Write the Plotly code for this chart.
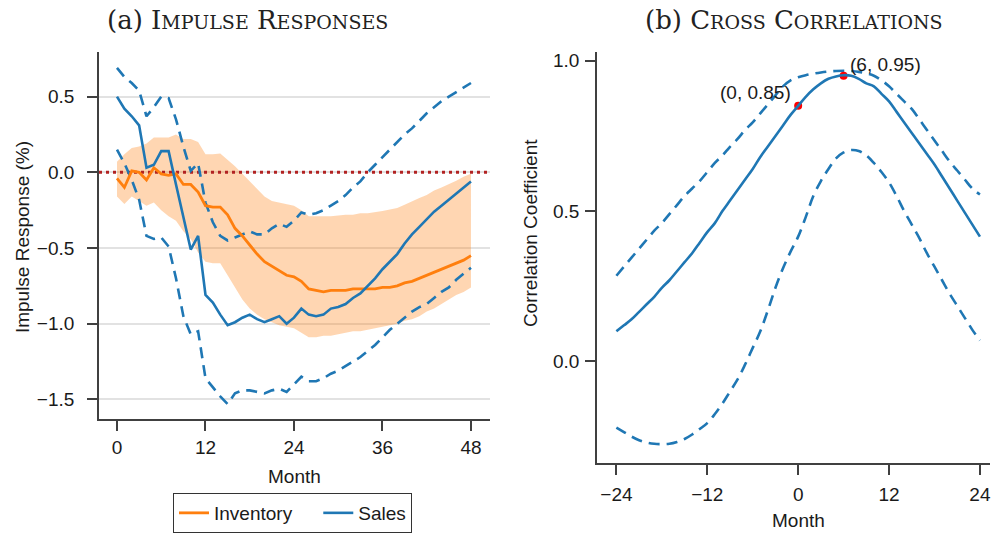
import plotly.graph_objects as go

# ---------------- data ----------------
months = list(range(0, 49))
inventory = [-0.04, -0.10, 0.01, 0.00, -0.05, 0.03, -0.01, -0.02, -0.01, -0.08, -0.08, -0.13,
             -0.22, -0.23, -0.23, -0.28, -0.37, -0.42, -0.48, -0.54, -0.59, -0.62, -0.65, -0.68,
             -0.69, -0.72, -0.77, -0.78, -0.79, -0.78, -0.78, -0.78, -0.77, -0.77, -0.77, -0.77,
             -0.76, -0.76, -0.75, -0.73, -0.72, -0.70, -0.68, -0.66, -0.64, -0.62, -0.60, -0.58, -0.55]
inv_upper = [0.07, 0.12, 0.16, 0.17, 0.19, 0.23, 0.23, 0.23, 0.25, 0.22, 0.22, 0.20,
             0.12, 0.12, 0.125, 0.085, 0.04, -0.01, -0.06, -0.11, -0.16, -0.19, -0.20, -0.21,
             -0.22, -0.25, -0.29, -0.29, -0.29, -0.29, -0.285, -0.28, -0.28, -0.27, -0.27, -0.265,
             -0.255, -0.245, -0.235, -0.215, -0.19, -0.17, -0.15, -0.12, -0.10, -0.08, -0.055, -0.03, -0.01]
inv_lower = [-0.16, -0.21, -0.16, -0.19, -0.22, -0.20, -0.25, -0.29, -0.32, -0.39, -0.44, -0.53,
             -0.59, -0.60, -0.60, -0.68, -0.76, -0.84, -0.90, -0.94, -0.97, -0.99, -1.01, -1.02,
             -1.03, -1.06, -1.09, -1.09, -1.08, -1.08, -1.07, -1.06, -1.05, -1.05, -1.04, -1.03,
             -1.02, -1.01, -1.00, -0.98, -0.97, -0.95, -0.92, -0.90, -0.87, -0.84, -0.81, -0.79, -0.76]
sales = [0.50, 0.42, 0.37, 0.31, 0.03, 0.05, 0.14, 0.14, -0.08, -0.30, -0.51, -0.42,
         -0.81, -0.86, -0.94, -1.01, -0.99, -0.96, -0.94, -0.97, -0.99, -0.97, -0.95, -1.00,
         -0.96, -0.90, -0.94, -0.95, -0.94, -0.90, -0.89, -0.87, -0.83, -0.80, -0.75, -0.70,
         -0.64, -0.59, -0.54, -0.47, -0.41, -0.36, -0.31, -0.26, -0.22, -0.18, -0.14, -0.10, -0.06]
sales_upper = [0.69, 0.63, 0.59, 0.54, 0.37, 0.43, 0.50, 0.49, 0.35, 0.17, 0.01, 0.06,
               -0.20, -0.33, -0.42, -0.45, -0.43, -0.41, -0.39, -0.41, -0.41, -0.37, -0.34, -0.36,
               -0.32, -0.265, -0.28, -0.27, -0.25, -0.22, -0.19, -0.15, -0.10, -0.06, 0.00, 0.05,
               0.10, 0.15, 0.20, 0.25, 0.29, 0.34, 0.39, 0.43, 0.47, 0.50, 0.53, 0.56, 0.59]
sales_lower = [0.15, 0.06, -0.05, -0.18, -0.42, -0.44, -0.43, -0.49, -0.70, -0.95, -1.07, -1.05,
               -1.36, -1.42, -1.48, -1.53, -1.46, -1.44, -1.44, -1.45, -1.46, -1.44, -1.43, -1.45,
               -1.40, -1.35, -1.38, -1.38, -1.36, -1.33, -1.31, -1.28, -1.25, -1.22, -1.18, -1.14,
               -1.09, -1.04, -1.00, -0.96, -0.92, -0.89, -0.87, -0.83, -0.79, -0.76, -0.71, -0.67, -0.63]

lags = list(range(-24, 25))
corr = [0.10, 0.12, 0.14, 0.165, 0.19, 0.215, 0.245, 0.27, 0.30, 0.33, 0.36, 0.395,
        0.43, 0.46, 0.50, 0.535, 0.57, 0.605, 0.64, 0.68, 0.715, 0.75, 0.785, 0.82,
        0.85, 0.88, 0.905, 0.925, 0.94, 0.948, 0.952, 0.95, 0.94, 0.925, 0.915, 0.89,
        0.865, 0.83, 0.795, 0.76, 0.725, 0.69, 0.655, 0.615, 0.575, 0.535, 0.495, 0.455, 0.415]
corr_upper = [0.285, 0.315, 0.345, 0.375, 0.405, 0.435, 0.46, 0.49, 0.52, 0.55, 0.575, 0.60,
              0.63, 0.66, 0.685, 0.714, 0.74, 0.77, 0.795, 0.825, 0.855, 0.885, 0.915, 0.935,
              0.945, 0.952, 0.957, 0.961, 0.964, 0.966, 0.967, 0.966, 0.963, 0.958, 0.95, 0.935,
              0.915, 0.89, 0.865, 0.84, 0.805, 0.77, 0.735, 0.70, 0.665, 0.635, 0.605, 0.575, 0.555]
corr_lower = [-0.22, -0.235, -0.25, -0.262, -0.27, -0.274, -0.275, -0.274, -0.268, -0.258, -0.243, -0.225,
              -0.205, -0.175, -0.14, -0.10, -0.06, -0.01, 0.045, 0.10, 0.17, 0.245, 0.31, 0.365,
              0.415, 0.48, 0.55, 0.60, 0.64, 0.675, 0.695, 0.703, 0.70, 0.685, 0.66, 0.63,
              0.595, 0.55, 0.50, 0.455, 0.41, 0.36, 0.315, 0.27, 0.225, 0.185, 0.145, 0.105, 0.07]

marked_lags = [0, 6]
marked_vals = [0.85, 0.95]
marked_labels = ["(0, 0.85)", "(6, 0.95)"]

left_xticks = [0, 12, 24, 36, 48]
left_yticks = [-1.5, -1.0, -0.5, 0.0, 0.5]
right_xticks = [-24, -12, 0, 12, 24]
right_yticks = [0.0, 0.5, 1.0]

# ---------------- style ----------------
W, H = 994, 533
ORANGE = "#ff7f0e"
BLUE = "#1f77b4"
BAND = "rgba(255,127,14,0.32)"
AXC = "#404040"
SANS = "Liberation Sans, Arial, Helvetica, sans-serif"
SERIF = "DejaVu Serif, Liberation Serif, serif"
FS = 19
DASH = "11px,7px"
NBSP = "\u00a0"

L_XR = [-2.44, 50.58]
L_YR = [-1.632, 0.796]
R_XR = [-26.56, 25.33]
R_YR = [-0.3387, 1.0308]

def px(x):
    return x / W

def py(y):
    return 1 - y / H

fig = go.Figure()

# band
fig.add_trace(go.Scatter(x=months, y=inv_upper, mode="lines", line=dict(width=0),
                         showlegend=False, hoverinfo="skip", xaxis="x", yaxis="y"))
fig.add_trace(go.Scatter(x=months, y=inv_lower, mode="lines", line=dict(width=0),
                         fill="tonexty", fillcolor=BAND, showlegend=False, hoverinfo="skip",
                         xaxis="x", yaxis="y"))
# zero line
fig.add_trace(go.Scatter(x=L_XR, y=[0, 0], mode="lines",
                         line=dict(color="#b22222", width=3, dash="3px,4px"),
                         showlegend=False, hoverinfo="skip", xaxis="x", yaxis="y"))
# sales bands
fig.add_trace(go.Scatter(x=months, y=sales_upper, mode="lines",
                         line=dict(color=BLUE, width=2.6, dash=DASH),
                         showlegend=False, xaxis="x", yaxis="y"))
fig.add_trace(go.Scatter(x=months, y=sales_lower, mode="lines",
                         line=dict(color=BLUE, width=2.6, dash=DASH),
                         showlegend=False, xaxis="x", yaxis="y"))
fig.add_trace(go.Scatter(x=months, y=inventory, mode="lines", name="Inventory" + NBSP * 4,
                         line=dict(color=ORANGE, width=2.8), xaxis="x", yaxis="y"))
fig.add_trace(go.Scatter(x=months, y=sales, mode="lines", name="Sales",
                         line=dict(color=BLUE, width=2.6), xaxis="x", yaxis="y"))

# right panel
fig.add_trace(go.Scatter(x=lags, y=corr_upper, mode="lines",
                         line=dict(color=BLUE, width=2.6, dash=DASH, shape="spline"),
                         showlegend=False, xaxis="x2", yaxis="y2"))
fig.add_trace(go.Scatter(x=lags, y=corr_lower, mode="lines",
                         line=dict(color=BLUE, width=2.6, dash=DASH, shape="spline"),
                         showlegend=False, xaxis="x2", yaxis="y2"))
fig.add_trace(go.Scatter(x=marked_lags, y=marked_vals, mode="markers",
                         marker=dict(color="red", size=8),
                         showlegend=False, xaxis="x2", yaxis="y2"))
fig.add_trace(go.Scatter(x=lags, y=corr, mode="lines",
                         line=dict(color=BLUE, width=2.6, shape="spline"),
                         showlegend=False, xaxis="x2", yaxis="y2"))

axis_common = dict(showline=True, linecolor=AXC, linewidth=1.8, ticks="outside",
                   ticklen=10, tickwidth=1.5, tickcolor=AXC, zeroline=False,
                   tickfont=dict(family=SANS, size=FS, color="#1a1a1a"))

fig.update_layout(
    width=W, height=H,
    margin=dict(l=0, r=0, t=0, b=0),
    paper_bgcolor="white", plot_bgcolor="white",
    font=dict(family=SANS, size=FS, color="#1a1a1a"),
    xaxis=dict(domain=[px(99), px(490)], range=L_XR, tickvals=left_xticks,
               showgrid=False, anchor="y", **axis_common),
    yaxis=dict(domain=[py(421), py(52)], range=L_YR, tickvals=left_yticks,
               tickformat=".1f", showgrid=True, gridcolor="#e2e2e2", gridwidth=1.5,
               anchor="x", ticklabelstandoff=9, **axis_common),
    xaxis2=dict(domain=[px(597), px(990)], range=R_XR, tickvals=right_xticks,
                showgrid=False, anchor="y2", ticklabelstandoff=3, **axis_common),
    yaxis2=dict(domain=[py(465), py(51.7)], range=R_YR, tickvals=right_yticks,
                tickformat=".1f", showgrid=False, anchor="x2", ticklabelstandoff=2,
                **axis_common),
    legend=dict(orientation="h", x=px(173), y=py(495), xanchor="left", yanchor="top",
                traceorder="normal",
                bordercolor="#333333", borderwidth=1, bgcolor="white",
                font=dict(family=SANS, size=FS, color="#1a1a1a")),
)

def small_caps(parts):
    out = []
    for big, small in parts:
        s = big
        if small:
            s += '<span style="font-size:19px">' + small.upper() + '</span>'
        out.append(s)
    return " ".join(out)

title_a = '(a) ' + small_caps([("I", "mpulse"), ("R", "esponses")])
title_b = '(b) ' + small_caps([("C", "ross"), ("C", "orrelations")])

annos = [
    dict(text=title_a, x=px(247), y=py(20)),
    dict(text=title_b, x=px(794), y=py(20)),
]
for a in annos:
    a.update(xref="paper", yref="paper", showarrow=False, xanchor="center", yanchor="middle",
             font=dict(family=SERIF, size=26, color="#222"))

annos += [
    dict(text="Month", x=px(294), y=py(478), xref="paper", yref="paper", showarrow=False,
         xanchor="center", yanchor="middle", font=dict(family=SANS, size=FS, color="#1a1a1a")),
    dict(text="Month", x=px(798), y=py(522), xref="paper", yref="paper", showarrow=False,
         xanchor="center", yanchor="middle", font=dict(family=SANS, size=FS, color="#1a1a1a")),
    dict(text="Impulse Response (%)", x=px(22), y=py(238), xref="paper", yref="paper",
         showarrow=False, textangle=-90, xanchor="center", yanchor="middle",
         font=dict(family=SANS, size=FS, color="#1a1a1a")),
    dict(text="Correlation Coefficient", x=px(530), y=py(234), xref="paper", yref="paper",
         showarrow=False, textangle=-90, xanchor="center", yanchor="middle",
         font=dict(family=SANS, size=FS, color="#1a1a1a")),
]
shifts = [(-5, 13, "right"), (4, 11, "left")]
for (lx, lv, lab), (xs, ys, anc) in zip(zip(marked_lags, marked_vals, marked_labels), shifts):
    annos.append(dict(text=lab, x=lx, y=lv, xref="x2", yref="y2", showarrow=False,
                      xanchor=anc, yanchor="middle", xshift=xs, yshift=ys,
                      font=dict(family=SANS, size=FS, color="#1a1a1a")))

fig.update_layout(annotations=annos)
fig.write_html("out.html")
